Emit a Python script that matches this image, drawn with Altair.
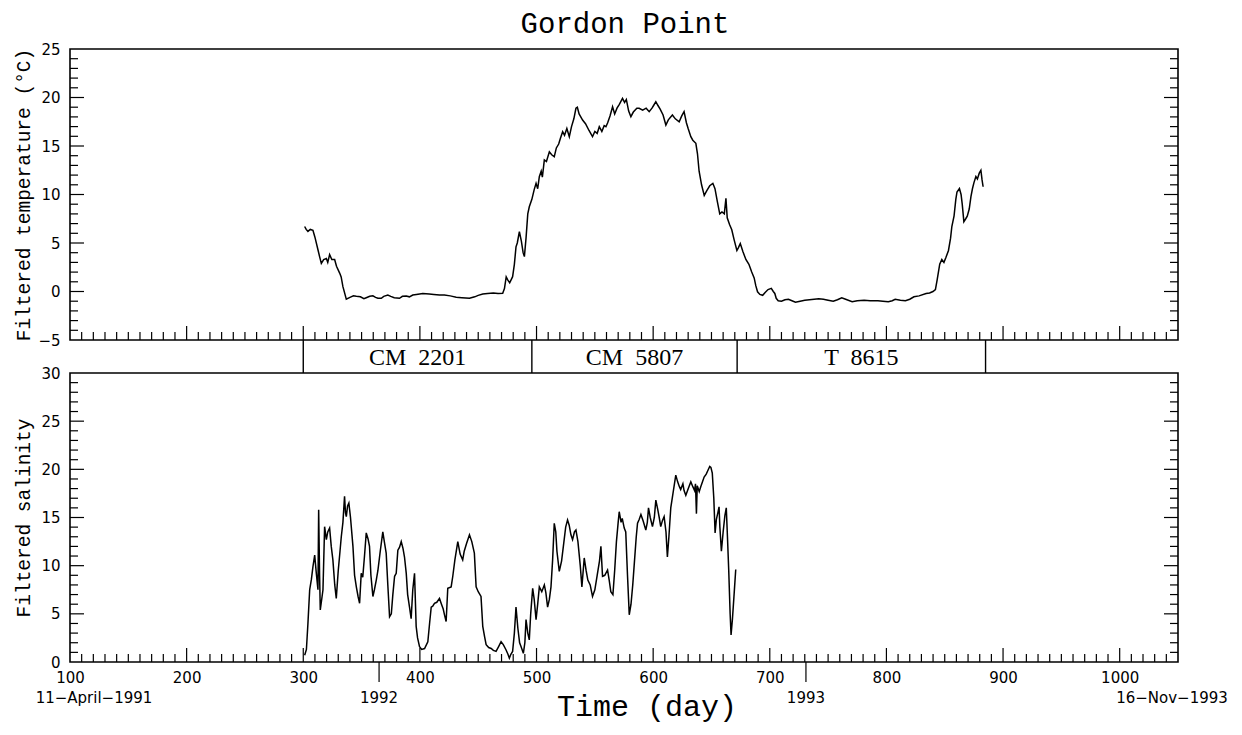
import altair as alt
import pandas as pd

# ---------------- data ----------------
temp_day = [301.2, 302.5, 304, 306, 308.3, 310, 312.6, 314, 315.5, 317.5, 319.8, 321, 322.6, 324.5, 326.9,
            328.5, 331.2, 332.5, 334, 336.9, 340, 343, 345.5, 349, 352, 354, 357, 359.7, 362, 364, 366.9,
            369, 372.5, 375, 378, 382.5, 385, 388.3, 391, 393.9, 397, 402.5, 408, 412, 416.8, 421, 426,
            431.1, 436, 442.5, 447, 450, 453.9, 458, 463, 467, 471, 472.5, 474, 475.3, 477, 479.5, 481,
            482.4, 483.5, 485.3, 487, 488.5, 489.6, 491, 492.5, 493.8, 496, 498, 499.6, 501, 502.4, 504,
            505, 506.7, 508.5, 511, 513, 515.2, 517, 519, 520.5, 522.4, 524, 526, 528.1, 530, 532, 533.8,
            535, 536.5, 539.5, 542, 545, 548, 550, 552, 553.8, 556, 558, 559.5, 561, 563, 565.2, 567, 569,
            571, 573.7, 575.5, 577, 579, 580.9, 583, 586, 588, 591, 594, 596.6, 599, 600.5, 602.3, 604,
            606, 608.5, 610.9, 613, 616.5, 619, 622.3, 624.5, 626.5, 628.5, 630, 632.3, 634, 636.6, 638,
            639.4, 641.5, 643.8, 646, 648.5, 651.2, 653, 655, 657.1, 659, 661, 662.4, 663.5, 665.5, 667.4,
            669.5, 671.8, 673, 674.7, 677, 679.5, 682.1, 684.5, 686.6, 688, 689.5, 691.5, 693.9, 696,
            698.5, 701.3, 703, 704.3, 705.5, 707.2, 710, 713, 716, 719, 722, 726, 730, 734, 738, 742, 746,
            750, 754.4, 758, 761.7, 765, 770.6, 775, 780.9, 786, 792.7, 797, 801.6, 805, 807.5, 812, 816.3,
            820, 823.6, 828, 834, 837, 839.9, 842, 843.5, 845.7, 847.5, 849.3, 851, 853.2, 855, 856.1, 858,
            859.5, 860.5, 862.6, 864, 865, 866.4, 868, 869.3, 871, 872.5, 873.8, 875, 876.7, 878, 879.6,
            881, 882, 882.9]
temp_c = [6.7, 6.4, 6.2, 6.4, 6.3, 5.6, 4.3, 3.6, 2.9, 3.3, 3.4, 3.0, 3.8, 3.3, 3.3,
          2.6, 1.9, 1.5, 0.5, -0.8, -0.6, -0.45, -0.5, -0.55, -0.75, -0.65, -0.5, -0.45, -0.6, -0.7, -0.7,
          -0.5, -0.36, -0.5, -0.65, -0.7, -0.5, -0.46, -0.55, -0.36, -0.3, -0.2, -0.25, -0.3, -0.36, -0.35, -0.45,
          -0.6, -0.65, -0.7, -0.55, -0.4, -0.26, -0.2, -0.15, -0.2, -0.19, 0.3, 1.5, 1.19, 0.9, 1.53, 2.8,
          4.6, 5.0, 6.16, 5.2, 4.0, 3.6, 5.5, 8.0, 8.74, 9.5, 10.5, 11.15, 10.6, 11.83, 12.4,
          11.8, 13.56, 13.4, 14.4, 14.1, 13.9, 14.8, 15.2, 15.8, 16.47, 16.1, 16.8, 15.96, 17.0, 17.8, 18.89,
          19.0, 18.3, 17.68, 17.3, 16.6, 15.96, 16.5, 16.3, 16.99, 16.5, 17.1, 16.99, 17.4, 18.1, 19.05, 18.3, 18.9,
          19.3, 19.91, 19.5, 19.8, 18.6, 18.02, 18.5, 18.9, 18.89, 18.7, 18.9, 18.54, 18.9, 19.2, 19.57, 19.2,
          18.8, 18.2, 17.16, 17.7, 18.2, 17.8, 17.5, 18.1, 18.54, 17.4, 16.8, 15.96, 15.6, 15.28, 14.2,
          12.4, 11.0, 9.9, 10.4, 10.9, 11.15, 10.6, 9.3, 8.0, 8.2, 8.0, 9.6, 7.6, 6.9, 6.36,
          5.3, 4.23, 4.5, 4.94, 4.1, 3.3, 2.81, 2.0, 1.4, 0.6, -0.03, -0.3, -0.39, -0.1,
          0.2, 0.32, 0.0, -0.2, -0.7, -0.95, -1.0, -0.85, -0.8, -0.95, -1.1, -1.0, -0.9, -0.85, -0.8, -0.75, -0.8,
          -0.9, -1.0, -0.85, -0.65, -0.8, -1.05, -0.95, -0.9, -0.95, -0.95, -1.0, -1.05, -0.95, -0.8, -0.9, -0.95,
          -0.8, -0.55, -0.45, -0.2, -0.15, 0.0, 0.2, 1.2, 2.81, 3.3, 3.0, 3.5, 4.23, 5.5, 6.7, 7.8,
          9.5, 10.26, 10.62, 10.0, 9.0, 7.2, 7.5, 7.77, 8.5, 9.8, 10.62, 11.2, 11.85, 11.6, 12.2,
          12.5, 11.5, 10.8]

sal_day = [301.2, 302.7, 304, 305.5, 307, 308.3, 309.8, 311.2, 312.6, 313.2, 314, 314.6, 316.9, 318.3, 319.8,
           321, 322.6, 324, 325.4, 327, 328.3, 330, 331.5, 332.6, 334, 335.4, 336.2, 336.9, 338, 339.1, 340.5,
           342.6, 344, 345.5, 347, 348.3, 349.7, 351, 352.5, 354, 355.5, 356.8, 358, 359.7, 361, 362.6, 364,
           366, 368.2, 369.5, 371.1, 372.5, 374, 375.5, 376.8, 378.3, 379.7, 381.1, 382.5, 384, 385.5, 386.8,
           388.3, 389.5, 391.1, 392.5, 393.9, 395.4, 396.8, 398, 399.7, 401.5, 404, 406.8, 408.3, 409.7, 411,
           412.5, 414.5, 416.8, 418.5, 420, 421.1, 422.5, 423.9, 426.8, 428.2, 430, 432.5, 434.5, 436.7, 438,
           440, 442.5, 444.5, 446.7, 448.2, 450, 452.4, 453.9, 455.5, 456.8, 459, 461.1, 463, 465.3, 467.5,
           469.6, 471.5, 473.9, 475.5, 476.7, 478, 479.5, 481, 482.4, 484, 485.5, 486.7, 488.7, 490, 491,
           492.5, 493.8, 495, 496.7, 498, 499.6, 501, 502.4, 504.5, 506.7, 508, 509.5, 511, 512.4, 513.8,
           515.2, 516.5, 517.5, 519.5, 521.5, 523.5, 525, 526.6, 528, 529.5, 530.9, 532.5, 533.8, 535.5,
           537.5, 538.9, 540.9, 542.5, 544, 546, 548, 550, 552, 554, 555.2, 556.6, 558.5, 560.9, 562.3,
           563.7, 565.5, 567, 568.5, 570, 570.9, 572.5, 573.5, 575.2, 576.5, 578, 579.5, 581, 582.5, 584,
           585.5, 586.6, 588, 589.5, 591.5, 593.7, 595, 596, 597.5, 599.4, 601, 602.3, 604, 605.2, 606.5,
           608, 609.4, 611, 612.2, 613.5, 615.1, 617, 619.4, 621, 622.5, 623.6, 625.5, 626.5, 628, 629.5,
           631, 632.3, 634, 635.5, 636.3, 637.1, 637.8, 639.5, 640.8, 642, 643.7, 645.5, 647, 648.5, 649.5,
           650.7, 652, 653.1, 654.2, 655.5, 656.5, 657.2, 658.5, 660, 661.5, 662.7, 663.7, 664.8, 666,
           666.8, 668, 669.5, 670.8]
sal_psu = [0.7, 1.3, 4.0, 7.5, 8.6, 9.9, 11.1, 9.2, 7.5, 15.8, 9.0, 5.4, 7.5, 14.05, 12.7,
           13.5, 13.9, 12.0, 10.6, 8.0, 6.6, 9.5, 11.5, 13.0, 14.5, 17.2, 15.5, 15.1, 16.2, 16.5, 15.0,
           12.0, 9.0, 7.8, 6.8, 6.1, 9.2, 8.8, 11.0, 13.4, 12.8, 12.0, 9.0, 6.8, 7.5, 8.5, 9.5,
           11.5, 13.5, 12.5, 11.3, 8.0, 4.7, 5.0, 7.0, 8.9, 9.2, 11.6, 11.9, 12.5, 11.8, 10.9,
           9.2, 7.0, 5.7, 4.5, 7.5, 9.2, 3.7, 2.5, 1.6, 1.3, 1.4, 2.1, 4.0, 5.7, 5.8,
           6.1, 6.2, 6.6, 6.0, 5.5, 4.9, 4.2, 7.65, 7.8, 8.9, 10.6, 12.5, 11.2, 10.6, 11.5,
           12.3, 13.2, 12.5, 11.3, 7.8, 7.3, 6.8, 3.7, 2.6, 1.8, 1.5, 1.4, 1.2, 1.1, 1.6,
           2.1, 1.8, 1.25, 0.8, 0.4, 0.8, 1.1, 3.0, 5.7, 3.5, 2.0, 1.6, 0.9, 2.0, 4.4,
           3.0, 2.3, 5.0, 7.65, 6.5, 4.4, 6.0, 7.8, 7.3, 8.0, 7.2, 5.7, 6.5, 7.8, 10.6,
           14.4, 13.5, 11.5, 9.4, 10.5, 12.5, 14.0, 14.75, 14.2, 13.2, 12.7, 13.5, 13.7, 12.5,
           10.0, 7.8, 10.8, 9.5, 8.5, 8.0, 6.8, 7.5, 9.0, 10.5, 12.0, 8.9, 9.0, 9.55, 8.5,
           7.3, 7.0, 9.5, 12.5, 14.5, 15.6, 14.5, 14.9, 13.9, 13.5, 9.0, 4.9, 6.0, 8.0, 10.5,
           13.0, 14.4, 14.8, 15.3, 14.6, 13.7, 14.5, 16.0, 15.0, 14.05, 15.0, 16.8, 15.8, 15.0, 14.05,
           14.7, 15.1, 13.5, 10.9, 13.0, 16.0, 17.5, 19.4, 18.7, 18.2, 17.9, 18.5, 17.8, 17.3, 17.8,
           18.3, 18.7, 18.2, 17.8, 18.5, 15.4, 18.3, 17.7, 18.2, 18.6, 19.2, 19.5, 19.9, 20.3, 20.2,
           19.6, 17.0, 13.4, 14.8, 15.5, 16.1, 14.0, 11.5, 13.5, 15.2, 16.0, 13.0, 9.5, 5.0,
           2.8, 4.5, 7.2, 9.6]

x_label_days = list(range(100, 1001, 100))
x_minor_days = [d for d in range(110, 1050, 10) if d % 100]
x_major_days = list(range(200, 1001, 100))
t_minor = [v for v in range(-4, 25) if v % 5]
t_major = [0, 5, 10, 15, 20]
s_minor = [v for v in range(1, 30) if v % 5]
s_major = [5, 10, 15, 20, 25]

instrument_edges = [300, 496, 672, 885]
instrument_names = ["CM \u00a02201", "CM \u00a05807", "T \u00a08615"]
year_days = [365, 731]
year_names = ["1992", "1993"]
start_day, start_name = 100, "11\u2212April\u22121991"
end_day, end_name = 1050, "16\u2212Nov\u22121993"

# ---------------- layout (pixels inside the plot group) ----------------
W, H = 1108, 613
TOP_BOTTOM = 291     # bottom edge of temperature panel
SAL_TOP = 324        # top edge of salinity panel
MINOR, MAJOR = 8, 14
LABEL_FONT, LABEL_SIZE = "DejaVu Sans", 15

temp_df = pd.DataFrame({"day": temp_day, "T": temp_c})
sal_df = pd.DataFrame({"day": sal_day, "S": sal_psu})

xs = alt.Scale(domain=[100, 1050], nice=False, zero=False)
x_axis = alt.Axis(values=x_label_days, ticks=False, domain=False, grid=False,
                  labelFont=LABEL_FONT, labelFontSize=LABEL_SIZE, labelColor="black",
                  labelPadding=8, labelFlush=False, labelOverlap=False, format="d", title=None)
ts = alt.Scale(domain=[-5, 25], range=[TOP_BOTTOM, 0], nice=False, zero=False)
ss = alt.Scale(domain=[0, 30], range=[H, SAL_TOP], nice=False, zero=False)
t_axis = alt.Axis(values=[-5, 0, 5, 10, 15, 20, 25], ticks=False, domain=False, grid=False,
                  labelFont=LABEL_FONT, labelFontSize=LABEL_SIZE, labelColor="black", labelPadding=10,
                  title="Filtered temperature (\u00b0C)", titleFont="Liberation Mono", titleFontSize=19.5,
                  titleFontWeight="normal", titleColor="black", titleAngle=270, titleAlign="center",
                  titleBaseline="middle", titleX=-47, titleY=TOP_BOTTOM / 2, orient="left")
s_axis = alt.Axis(values=[0, 5, 10, 15, 20, 25, 30], ticks=False, domain=False, grid=False,
                  labelFont=LABEL_FONT, labelFontSize=LABEL_SIZE, labelColor="black", labelPadding=10,
                  title="Filtered salinity", titleFont="Liberation Mono", titleFontSize=19.5,
                  titleFontWeight="normal", titleColor="black", titleAngle=270, titleAlign="center",
                  titleBaseline="middle", titleX=-47, titleY=(H + SAL_TOP) / 2, orient="left")


def X(field="day"):
    return alt.X(f"{field}:Q", scale=xs, axis=x_axis)


# temperature group
t_line = alt.Chart(temp_df).mark_line(color="black", strokeWidth=1.5).encode(
    x=X(), y=alt.Y("T:Q", scale=ts, axis=t_axis))


def t_ticks(vals, length):
    d = pd.DataFrame({"T": vals})
    left = alt.Chart(d).mark_rule(color="black", strokeWidth=1.2).encode(
        y=alt.Y("T:Q", scale=ts, axis=t_axis), x=alt.value(0), x2=alt.value(length))
    right = alt.Chart(d).mark_rule(color="black", strokeWidth=1.2).encode(
        y=alt.Y("T:Q", scale=ts, axis=t_axis), x=alt.value(W), x2=alt.value(W - length))
    return [left, right]


temp_group = alt.layer(t_line, *t_ticks(t_minor, MINOR), *t_ticks(t_major, MAJOR))

# salinity group
s_line = alt.Chart(sal_df).mark_line(color="black", strokeWidth=1.5).encode(
    x=X(), y=alt.Y("S:Q", scale=ss, axis=s_axis))


def s_ticks(vals, length):
    d = pd.DataFrame({"S": vals})
    left = alt.Chart(d).mark_rule(color="black", strokeWidth=1.2).encode(
        y=alt.Y("S:Q", scale=ss, axis=s_axis), x=alt.value(0), x2=alt.value(length))
    right = alt.Chart(d).mark_rule(color="black", strokeWidth=1.2).encode(
        y=alt.Y("S:Q", scale=ss, axis=s_axis), x=alt.value(W), x2=alt.value(W - length))
    return [left, right]


sal_group = alt.layer(s_line, *s_ticks(s_minor, MINOR), *s_ticks(s_major, MAJOR))

# x ticks (inside, pointing up) on bottom edges of both panels
deco = []
for days, length in [(x_minor_days, MINOR), (x_major_days, MAJOR)]:
    d = pd.DataFrame({"day": days})
    for base in (TOP_BOTTOM, H):
        deco.append(alt.Chart(d).mark_rule(color="black", strokeWidth=1.2).encode(
            x=X(), y=alt.value(base), y2=alt.value(base - length)))

# panel frames
one = alt.Data(values=[{"k": 1}])
for y0, y1 in [(0, TOP_BOTTOM), (SAL_TOP, H)]:
    deco.append(alt.Chart(one).mark_rect(fillOpacity=0, stroke="black", strokeWidth=1.6).encode(
        x=alt.value(0), x2=alt.value(W), y=alt.value(y0), y2=alt.value(y1)))

# instrument band
edges_df = pd.DataFrame({"day": instrument_edges})
deco.append(alt.Chart(edges_df).mark_rule(color="black", strokeWidth=1.4).encode(
    x=X(), y=alt.value(TOP_BOTTOM), y2=alt.value(SAL_TOP)))
names_df = pd.DataFrame({
    "day": [(instrument_edges[i] + instrument_edges[i + 1]) / 2 for i in range(3)],
    "name": instrument_names})
deco.append(alt.Chart(names_df).mark_text(font="Liberation Serif", fontSize=24, color="black",
                                          align="center", baseline="middle").encode(
    x=X(), y=alt.value((TOP_BOTTOM + SAL_TOP) / 2 + 1), text="name:N"))

# year markers
years_df = pd.DataFrame({"day": year_days, "name": year_names})
deco.append(alt.Chart(years_df).mark_rule(color="black", strokeWidth=1.2).encode(
    x=X(), y=alt.value(H), y2=alt.value(H + 20)))
deco.append(alt.Chart(years_df).mark_text(font=LABEL_FONT, fontSize=LABEL_SIZE, color="black",
                                          align="center", baseline="middle").encode(
    x=X(), y=alt.value(H + 36), text="name:N"))
deco.append(alt.Chart(pd.DataFrame({"day": [start_day], "name": [start_name]})).mark_text(
    font=LABEL_FONT, fontSize=LABEL_SIZE, color="black", align="center", baseline="middle", dx=24).encode(
    x=X(), y=alt.value(H + 36), text="name:N"))
deco.append(alt.Chart(pd.DataFrame({"day": [end_day], "name": [end_name]})).mark_text(
    font=LABEL_FONT, fontSize=LABEL_SIZE, color="black", align="center", baseline="middle", dx=-6).encode(
    x=X(), y=alt.value(H + 36), text="name:N"))

# titles
deco.append(alt.Chart(alt.Data(values=[{"t": "Gordon Point"}])).mark_text(
    font="Liberation Mono", fontSize=29, color="black", align="center", baseline="middle").encode(
    x=alt.value(W / 2 + 1), y=alt.value(-25), text="t:N"))
deco.append(alt.Chart(alt.Data(values=[{"t": "Time (day)"}])).mark_text(
    font="Liberation Mono", fontSize=30, color="black", align="center", baseline="middle").encode(
    x=alt.value(577), y=alt.value(H + 45), text="t:N"))

chart = alt.layer(temp_group, sal_group, *deco).resolve_scale(y="independent").properties(
    width=W, height=H,
    padding={"left": 70, "top": 49, "right": 64, "bottom": 73},
    autosize=alt.AutoSizeParams(type="none"),
    background="white",
).configure_view(stroke=None)

chart.save("out.html", embed_options={"renderer": "svg", "actions": False})
